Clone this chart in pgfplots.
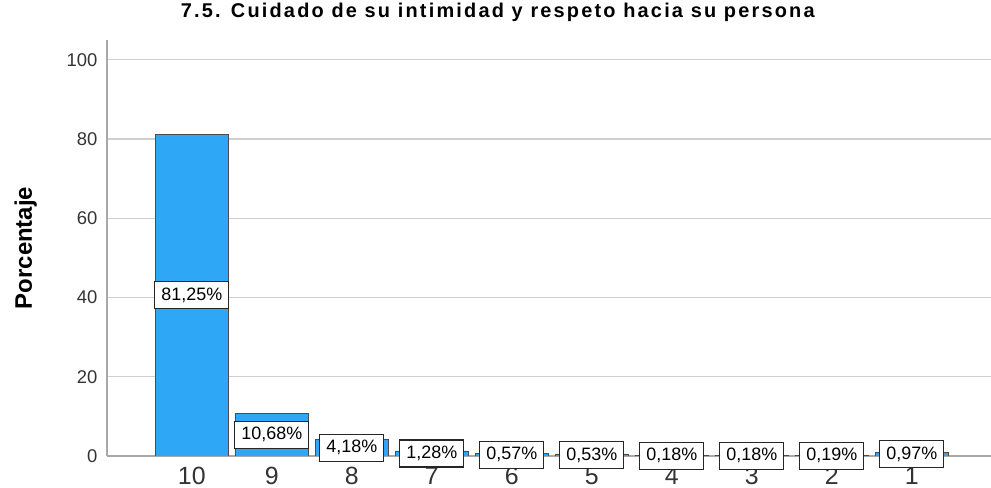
\documentclass[border=0pt]{standalone}
\usepackage{fontspec}
\setmainfont{Liberation Sans}
\usepackage{pgfplots}
\pgfplotsset{compat=1.18}
\definecolor{barblue}{HTML}{2EA8F6}
\definecolor{gridgray}{HTML}{CFCFCF}
\definecolor{axisgray}{HTML}{A8A8A8}
\definecolor{txtgray}{HTML}{333333}

\pgfplotstableread{
x val lab
0 81.25 81,25\%
1 10.68 10,68\%
2 4.18  4,18\%
3 1.28  1,28\%
4 0.57  0,57\%
5 0.53  0,53\%
6 0.18  0,18\%
7 0.18  0,18\%
8 0.19  0,19\%
9 0.97  0,97\%
}\datatable

\begin{document}
\begin{tikzpicture}
\path[use as bounding box] (0,0) rectangle (991bp,488bp);
\begin{axis}[
    at={(107bp,32bp)}, anchor=south west,
    scale only axis, width=884bp, height=416bp,
    xmin=-1.06, xmax=9.99, ymin=0, ymax=105,
    xtick={0,...,9},
    xticklabels={10,9,8,7,6,5,4,3,2,1},
    ytick={0,20,40,60,80,100},
    /pgf/number format/assume math mode=true,
    ymajorgrids,
    grid style={gridgray, line width=1.2bp},
    axis x line*=bottom, axis y line*=left,
    axis line style={axisgray, line width=1.6bp},
    major tick length=0pt,
    xticklabel style={font=\fontsize{25}{28}\selectfont, text=txtgray, yshift=-8bp},
    yticklabel style={font=\fontsize{18.5}{20}\selectfont, text=txtgray, xshift=-6bp},
    ylabel={\textbf{Porcentaje}},
    ylabel style={font=\fontsize{24}{27}\selectfont, at={(axis description cs:-0.092,0.5)}, anchor=center},
    title={7.5. Cuidado de su intimidad y respeto hacia su persona},
    title style={font=\bfseries\fontsize{20}{23}\selectfont\addfontfeature{LetterSpace=11},
        at={(axis description cs:0.442,1.053)}, anchor=center},
]
\addplot[ybar, bar width=0.91, fill=barblue, draw=black!70, line width=0.8bp]
    table[x=x, y=val] {\datatable};
\addplot[draw=none, mark=none, y filter/.expression={y/2},
    nodes near coords, point meta=explicit symbolic,
    nodes near coords align={center},
    every node near coord/.append style={font=\fontsize{18}{20}\selectfont, fill=white,
        draw=black!85, line width=1.2bp, inner xsep=6.5bp, inner ysep=0bp,
        minimum height=27bp, anchor=center}]
    table[x=x, y=val, meta=lab] {\datatable};
\end{axis}
\end{tikzpicture}
\end{document}
